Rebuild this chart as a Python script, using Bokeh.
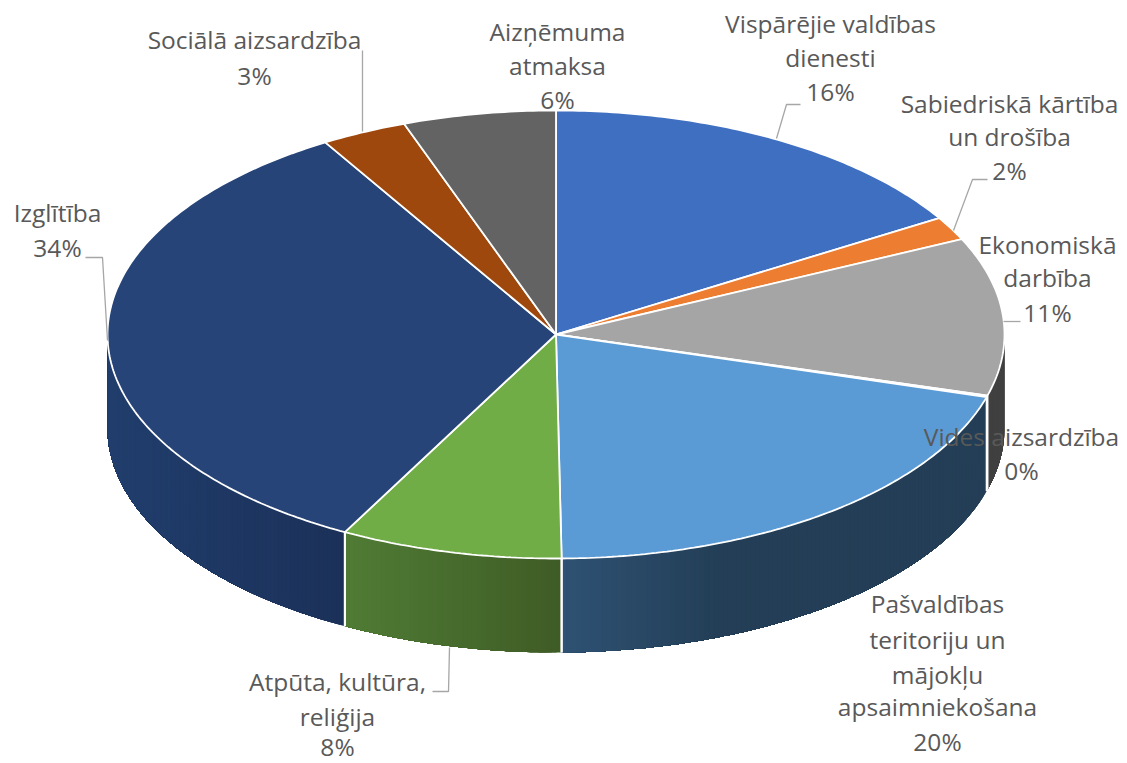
import numpy as np
from bokeh.plotting import figure
from bokeh.models import Range1d
from bokeh.core.properties import value
from bokeh.embed import file_html
from bokeh.resources import INLINE

# ---------- data ----------
categories = ["Vispārējie valdības dienesti", "Sabiedriskā kārtība un drošība",
              "Ekonomiskā darbība", "Vides aizsardzība",
              "Pašvaldības teritoriju un mājokļu apsaimniekošana",
              "Atpūta, kultūra, reliģija", "Izglītība", "Sociālā aizsardzība",
              "Aizņēmuma atmaksa"]
shares = [16.3, 1.7, 11.4, 0.1, 20.3, 8.0, 33.6, 3.1, 5.5]
percent_labels = ["16%", "2%", "11%", "0%", "20%", "8%", "34%", "3%", "6%"]

# ---------- style ----------
top_colors = ["#3f6fc0", "#ed7d31", "#a5a5a5", "#ffffff", "#5b9bd5",
              "#70ad47", "#264478", "#9e480e", "#636363"]
# side colour at the left and right end of each slice's wall
side_colors = [None, None, ("#404040", "#404040"), None,
               ("#2f5274", "#233e56"), ("#507c35", "#3f5c26"),
               ("#213e6d", "#1b3159"), None, None]
CX, CY, RX, RY, DEPTH = 555.5, 334.0, 448.5, 224.0, 94.0
WIDTH, HEIGHT = 1127, 763

p = figure(width=WIDTH, height=HEIGHT, output_backend="svg", toolbar_location=None,
           x_range=Range1d(0, WIDTH), y_range=Range1d(HEIGHT, 0),
           x_axis_location=None, y_axis_location=None, min_border=0,
           background_fill_color="white", border_fill_color="white")
p.grid.visible = False
p.outline_line_color = None


def pt(t):
    return CX + RX * np.sin(t), CY - RY * np.cos(t)


def mix(a, b, f):
    ca = [int(a[i:i + 2], 16) for i in (1, 3, 5)]
    cb = [int(b[i:i + 2], 16) for i in (1, 3, 5)]
    return "#%02x%02x%02x" % tuple(round(x + (y - x) * f) for x, y in zip(ca, cb))


edges = np.concatenate([[0], np.cumsum(shares)]) / sum(shares) * 2 * np.pi

# walls of the slices that face the viewer
xs, ys, cols = [], [], []
bx, by = [], []
for i, c in enumerate(side_colors):
    lo, hi = max(edges[i], np.pi / 2), min(edges[i + 1], 3 * np.pi / 2)
    if c is None or hi <= lo:
        continue
    arc = np.linspace(lo, hi, max(4, int((hi - lo) * 90)) + 1)
    ax, ay = pt(arc)
    x0, x1 = ax[0], ax[-1]
    xmin, xmax = min(x0, x1), max(x0, x1)
    # each band runs to the wall's far end and the next one paints over it: no seams
    for k in range(len(arc) - 1):
        f = (ax[k] - xmin) / max(xmax - xmin, 1)
        if i == 4:  # gradient of this wall settles early
            f = min(1, f * 2.6)
        xs.append(np.concatenate([ax[k:], ax[k:][::-1]]).tolist())
        ys.append(np.concatenate([ay[k:], (ay[k:] + DEPTH)[::-1]]).tolist())
        cols.append(mix(c[0], c[1], f))
    if edges[i] >= np.pi / 2:
        bx.append([x0, x0])
        by.append([ay[0], ay[0] + DEPTH])
    if edges[i + 1] <= 3 * np.pi / 2:
        bx.append([x1, x1])
        by.append([ay[-1], ay[-1] + DEPTH])
p.patches(xs, ys, fill_color=cols, line_color=None)
p.multi_line(bx, by, line_color="white", line_width=2)

# top face
xs, ys = [], []
for i in range(len(shares)):
    n = max(2, int((edges[i + 1] - edges[i]) * 80))
    ts = np.linspace(edges[i], edges[i + 1], n + 1)
    ax, ay = pt(ts)
    xs.append(np.concatenate([[CX], ax]).tolist())
    ys.append(np.concatenate([[CY], ay]).tolist())
p.patches(xs, ys, fill_color=top_colors, line_color="white", line_width=1.8)

# leader lines
leaders_x = [[362, 362], [85, 102, 107], [800, 786, 776], [987, 972, 953],
             [1020, 1003], [432, 448, 449]]
leaders_y = [[50, 131], [257, 257, 340], [104, 104, 138], [179, 179, 230],
             [321, 321], [691, 691, 647]]
p.multi_line(leaders_x, leaders_y, line_color="#a6a6a6", line_width=1.3)

# labels: (slice index, text lines, centre x, centre y of each line)
label_layout = [
    (8, ["Aizņēmuma", "atmaksa"], 557, [31, 65, 99]),
    (0, ["Vispārējie valdības", "dienesti"], 830, [23, 57, 91]),
    (1, ["Sabiedriskā kārtība", "un drošība"], 1009, [103, 136, 170]),
    (2, ["Ekonomiskā", "darbība"], 1047, [244, 277, 312]),
    (3, ["Vides aizsardzība"], 1021, [436, 470]),
    (4, ["Pašvaldības", "teritoriju un", "mājokļu", "apsaimniekošana"], 937,
     [603, 639, 674, 706, 741]),
    (5, ["Atpūta, kultūra,", "reliģija"], 337, [681, 716, 746]),
    (6, ["Izglītība"], 57, [212, 247]),
    (7, ["Sociālā aizsardzība"], 254, [39, 75]),
]
tx, ty, tt = [], [], []
for idx, lines, cx, yy in label_layout:
    for line, y in zip(lines + [percent_labels[idx]], yy):
        tx.append(cx)
        ty.append(y)
        tt.append(line)
p.text(tx, ty, text=tt, text_align="center", text_baseline="middle",
       text_font=value("Open Sans"), text_font_size="24.5px", text_color="#595959")

open("out.html", "w").write(file_html(p, INLINE))
